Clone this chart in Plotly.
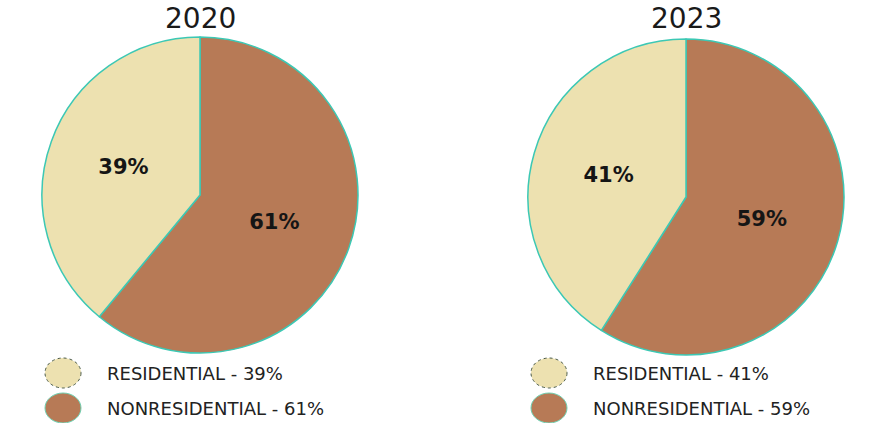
import plotly.graph_objects as go

# Share of construction by type, two survey years
years = ["2020", "2023"]
categories = ["NONRESIDENTIAL", "RESIDENTIAL"]
values_2020 = [61, 39]
values_2023 = [59, 41]

W, H = 870, 423
colors = ["#B77A56", "#EDE1B0"]
edge = "#3CC8B4"
font_family = "DejaVu Sans, Open Sans, sans-serif"

fig = go.Figure()

# pie centres (px) and diameter
centres = [(200, 195), (686, 197)]
D = 316


def px_dom(cx, cy, d):
    return dict(x=[(cx - d / 2) / W, (cx + d / 2) / W],
                y=[1 - (cy + d / 2) / H, 1 - (cy - d / 2) / H])


for (cx, cy), vals in zip(centres, [values_2020, values_2023]):
    fig.add_trace(go.Pie(
        labels=categories,
        values=vals,
        sort=False,
        direction="clockwise",
        rotation=0,
        domain=px_dom(cx, cy, D),
        marker=dict(colors=colors, line=dict(color=edge, width=1.5)),
        texttemplate="<b>%{value}%</b>",
        textposition="inside",
        insidetextorientation="horizontal",
        textfont=dict(family=font_family, size=21, color="#151515"),
        hoverinfo="label+percent",
        showlegend=False,
    ))

annotations = []
shapes = []
for (cx, cy), yr, vals in zip(centres, years, [values_2020, values_2023]):
    annotations.append(dict(
        x=cx / W, y=1 - 19 / H, xref="paper", yref="paper",
        text=yr, showarrow=False, xanchor="center", yanchor="middle",
        font=dict(family=font_family, size=28, color="#1a1a1a")))
    # legend rows: residential first, then nonresidential
    rows = [(categories[1], vals[1], colors[1], "#4a5a48", 373),
            (categories[0], vals[0], colors[0], "#6fcfb0", 408)]
    mx = cx - 137
    for name, v, col, lc, ly in rows:
        shapes.append(dict(
            type="circle", xref="paper", yref="paper",
            x0=(mx - 18) / W, x1=(mx + 18) / W,
            y0=1 - (ly + 15) / H, y1=1 - (ly - 15) / H,
            fillcolor=col, line=dict(color=lc, width=1, dash="dot" if lc == "#4a5a48" else "solid")))
        annotations.append(dict(
            x=(mx + 42) / W, y=1 - ly / H, xref="paper", yref="paper",
            text=f"{name} - {v}%", showarrow=False, xanchor="left", yanchor="middle",
            font=dict(family=font_family, size=18, color="#222222")))

fig.update_layout(
    width=W, height=H,
    margin=dict(l=0, r=0, t=0, b=0),
    paper_bgcolor="white",
    plot_bgcolor="white",
    annotations=annotations,
    shapes=shapes,
)

fig.write_html("out.html")
